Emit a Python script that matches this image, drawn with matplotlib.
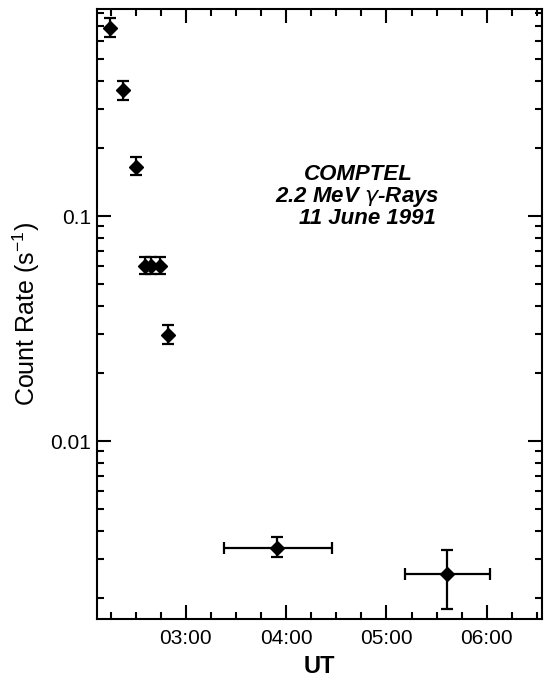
import matplotlib
matplotlib.use("Agg")
import matplotlib.pyplot as plt
from matplotlib.ticker import FixedLocator, FuncFormatter, LogLocator, NullFormatter

plt.rcParams['font.family'] = ['Liberation Sans', 'DejaVu Sans']

# Time in decimal hours UT
t_hours = [2.243, 2.371, 2.500, 2.589, 2.658, 2.738, 2.827, 3.906, 5.599]
t_err_lo = [0, 0, 0, 0, 0, 0, 0, 0.525, 0.416]
t_err_hi = [0, 0, 0, 0, 0, 0, 0, 0.554, 0.436]
rate = [0.685, 0.363, 0.165, 0.060, 0.060, 0.060, 0.0296, 0.00334, 0.00256]
rate_lo = [0.625, 0.328, 0.152, 0.0552, 0.0552, 0.0552, 0.0270, 0.00305, 0.00179]
rate_hi = [0.758, 0.398, 0.183, 0.0658, 0.0658, 0.0658, 0.0328, 0.00374, 0.00328]
x_major = [3, 4, 5, 6]
y_major = [0.01, 0.1]
y_labels = ['0.01', '0.1']

fig = plt.figure(figsize=(5.44, 6.8), dpi=100)
ax = fig.add_axes([0.1783, 0.0897, 0.8180, 0.8971])

yerr = [[r - l for r, l in zip(rate, rate_lo)], [h - r for r, h in zip(rate, rate_hi)]]
ax.errorbar(t_hours, rate, yerr=yerr, xerr=[t_err_lo, t_err_hi], fmt='D', color='black',
            ms=7.5, elinewidth=1.6, capsize=4.5, capthick=1.6)

ax.set_yscale('log')
ax.set_xlim(2.115, 6.55)
ax.set_ylim(0.00162, 0.832)

ax.xaxis.set_major_locator(FixedLocator(x_major))
ax.xaxis.set_minor_locator(FixedLocator([2.25 + 0.25 * i for i in range(18)]))
ax.xaxis.set_major_formatter(FuncFormatter(lambda v, p: f"{int(round(v)):02d}:00"))
ax.yaxis.set_major_locator(FixedLocator(y_major))
ax.yaxis.set_major_formatter(FuncFormatter(lambda v, p: y_labels[y_major.index(min(y_major, key=lambda m: abs(m - v)))]))
ax.yaxis.set_minor_locator(LogLocator(base=10, subs=range(2, 10)))
ax.yaxis.set_minor_formatter(NullFormatter())

ax.tick_params(which='both', direction='in', top=True, right=True, width=1.5, labelsize=15)
ax.tick_params(which='major', length=10)
ax.tick_params(axis='x', which='major', pad=7)
ax.tick_params(axis='y', which='major', pad=4)
ax.tick_params(which='minor', length=5)
for s in ax.spines.values():
    s.set_linewidth(1.5)

ax.set_xlabel('UT', fontsize=17, fontweight='bold', labelpad=5)
ax.set_ylabel('Count Rate (s$^{\\mathregular{-1}}$)', fontsize=18, labelpad=6)

tkw = dict(transform=fig.transFigure, fontsize=16, fontweight='bold', fontstyle='italic',
           ha='center', va='center')
fig.text(358 / 544, 1 - 175 / 680, 'COMPTEL', **tkw)
fig.text(357 / 544, 1 - 197 / 680, '2.2 MeV $\\gamma$-Rays', **tkw)
fig.text(367 / 544, 1 - 218 / 680, '11 June 1991', **tkw)

fig.savefig('out.png', dpi=100)
